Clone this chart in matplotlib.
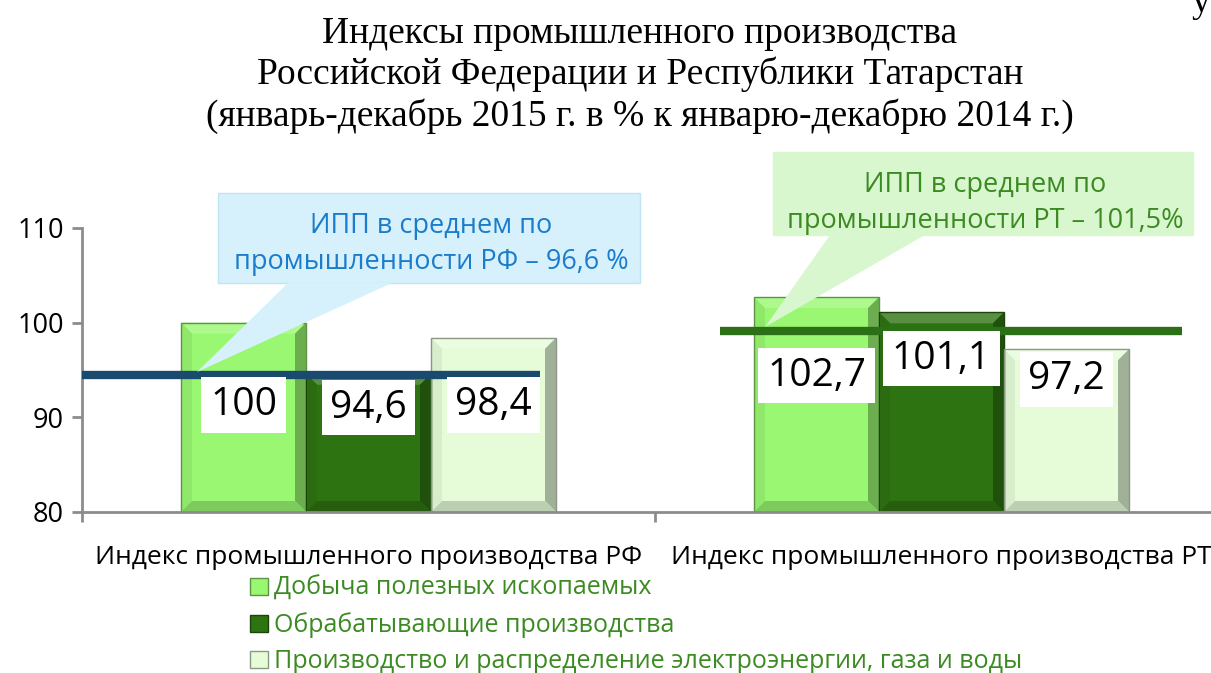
import numpy as np
import matplotlib.pyplot as plt
from matplotlib.patches import Polygon
from matplotlib.colors import to_rgb

categories = ['Индекс промышленного производства РФ', 'Индекс промышленного производства РТ']
series_names = ['Добыча полезных ископаемых', 'Обрабатывающие производства',
                'Производство и распределение электроэнергии, газа и воды']
values = [[100, 102.7],
          [94.6, 101.1],
          [98.4, 97.2]]
value_labels = [['100', '102,7'], ['94,6', '101,1'], ['98,4', '97,2']]
avg_texts = ['ИПП в среднем по\nпромышленности РФ – 96,6 %',
             'ИПП в среднем по\nпромышленности РТ – 101,5%']
# levels where the average lines are drawn on the slide
avg_line_levels = [94.5, 99.1]
# manual label heights (as on the slide)
label_y = [[91.3, 94.4], [91.0, 96.2], [91.3, 94.0]]

colors = ['#99f771', '#2e7311', '#e6fcd9']
text_green = '#3b8a22'

plt.rcParams['font.family'] = ['Open Sans', 'DejaVu Sans']

fig = plt.figure(figsize=(12.11, 6.73), dpi=100)
W, H = 1211, 673
ax = fig.add_axes([82 / W, 161 / H, 1146 / W, 284 / H])
ax.set_xlim(-0.5, 1.5)
ax.set_ylim(80, 110)

bw = 125 / 573
x = np.arange(len(categories))
bars_all = []
for i, (name, vals, c) in enumerate(zip(series_names, values, colors)):
    bars = ax.bar(x + (i - 1) * bw, np.array(vals) - 80, bottom=80, width=bw,
                  color=c, edgecolor='none', label=name, zorder=2)
    bars_all.append(bars)


def mix(c, other, t):
    a = np.array(to_rgb(c))
    b = np.array(to_rgb(other))
    return tuple(a * (1 - t) + b * t)


# bevel effect on each bar
bx = 11 / 573
by = 11 / 9.467
for bars, c in zip(bars_all, colors):
    for p in bars:
        x0, y0 = p.get_x(), p.get_y()
        x1, y1 = x0 + p.get_width(), y0 + p.get_height()
        top = [(x0, y1), (x1, y1), (x1 - bx, y1 - by), (x0 + bx, y1 - by)]
        left = [(x0, y0), (x0, y1), (x0 + bx, y1 - by), (x0 + bx, y0 + by)]
        right = [(x1, y0), (x1, y1), (x1 - bx, y1 - by), (x1 - bx, y0 + by)]
        bottom = [(x0, y0), (x1, y0), (x1 - bx, y0 + by), (x0 + bx, y0 + by)]
        ax.add_patch(Polygon(top, closed=True, color=mix(c, 'white', 0.2), lw=0, zorder=2.1))
        ax.add_patch(Polygon(left, closed=True, color=mix(c, 'black', 0.06), lw=0, zorder=2.1))
        ax.add_patch(Polygon(right, closed=True, color=mix(c, 'black', 0.3), lw=0, zorder=2.1))
        ax.add_patch(Polygon(bottom, closed=True, color=mix(c, 'black', 0.18), lw=0, zorder=2.1))
        ax.add_patch(Polygon([(x0, y0), (x0, y1), (x1, y1), (x1, y0)], closed=True,
                             fill=False, ec=mix(c, 'black', 0.4), lw=1, zorder=2.2))

# average lines
ax.plot([-0.509, 0.299], [avg_line_levels[0]] * 2, color='#1a4a6e', lw=6,
        solid_capstyle='butt', zorder=3)
ax.plot([0.613, 1.420], [avg_line_levels[1]] * 2, color='#2b7016', lw=6,
        solid_capstyle='butt', zorder=3)

# data labels in white boxes
for i in range(3):
    for j in range(2):
        p = bars_all[i][j]
        ax.text(p.get_x() + p.get_width() / 2, label_y[i][j], value_labels[i][j],
                ha='center', va='center', fontsize=28, color='black', zorder=4,
                bbox=dict(boxstyle='square,pad=0.22', fc='white', ec='none'))

# callouts (figure pixel coords from the top)
def px(xp, yp):
    return (xp / W, 1 - yp / H)


callouts = [
    dict(box=(218, 193, 640, 283), tail=[(288, 283), (392, 283), (197, 372)],
         fc='#d6f1fb', ec='#bfe5f5', tc='#1b7ccc', ty=244),
    dict(box=(773, 152, 1193, 235), tail=[(830, 235), (925, 235), (765, 327)],
         fc='#d9f7cf', ec='#d9f7cf', tc=text_green, ty=203),
]
for co, txt in zip(callouts, avg_texts):
    l, t, r, b = co['box']
    rect = [px(l, t), px(r, t), px(r, b), px(l, b)]
    fig.patches.append(Polygon(rect, closed=True, transform=fig.transFigure,
                               fc=co['fc'], ec=co['ec'], lw=1, zorder=5))
    tail = [px(*q) for q in co['tail']]
    fig.patches.append(Polygon(tail, closed=True, transform=fig.transFigure,
                               fc=co['fc'], ec='none', lw=0, zorder=5))
    cx, cy = px((l + r) / 2 + 2, co['ty'])
    fig.text(cx, cy, txt, ha='center', va='center', fontsize=19.5, color=co['tc'],
             linespacing=1.42, zorder=6)

# axes styling
for s in ['top', 'right']:
    ax.spines[s].set_visible(False)
for s in ['left', 'bottom']:
    ax.spines[s].set_color('#8c8c8c')
    ax.spines[s].set_linewidth(2)
ax.set_yticks([80, 90, 100, 110])
ax.tick_params(axis='y', labelsize=19.5, length=7, width=2, color='#8c8c8c', pad=6)
ax.set_xticks([-0.5, 0.5, 1.5])
ax.set_xticklabels([])
ax.set_xticks(x, minor=True)
ax.set_xticklabels(categories, minor=True)
ax.tick_params(axis='x', which='major', length=7, width=2, color='#8c8c8c')
ax.tick_params(axis='x', which='minor', length=0, labelsize=19, pad=24)
ax.patch.set_alpha(0)

# title
fig.text(640 / W, 1 - 75 / H,
         'Индексы промышленного производства\nРоссийской Федерации и Республики Татарстан\n'
         '(январь-декабрь 2015 г. в % к январю-декабрю 2014 г.)',
         ha='center', va='center', family='Liberation Serif', fontsize=27,
         linespacing=1.22)
fig.text(1191 / W, 1 + 14 / H, 'у', ha='left', va='top', family='Liberation Serif', fontsize=27)

leg = ax.legend(loc='upper left', bbox_to_anchor=(250 / W, 1 - 576 / H),
                bbox_transform=fig.transFigure, frameon=False, fontsize=18,
                handlelength=0.7, handleheight=0.7, handletextpad=0.25,
                labelspacing=0.45, borderpad=0, borderaxespad=0)
for t in leg.get_texts():
    t.set_color(text_green)
for h, c in zip(leg.legend_handles, colors):
    h.set_edgecolor(mix(c, 'black', 0.4))

fig.savefig('out.png', dpi=100)
